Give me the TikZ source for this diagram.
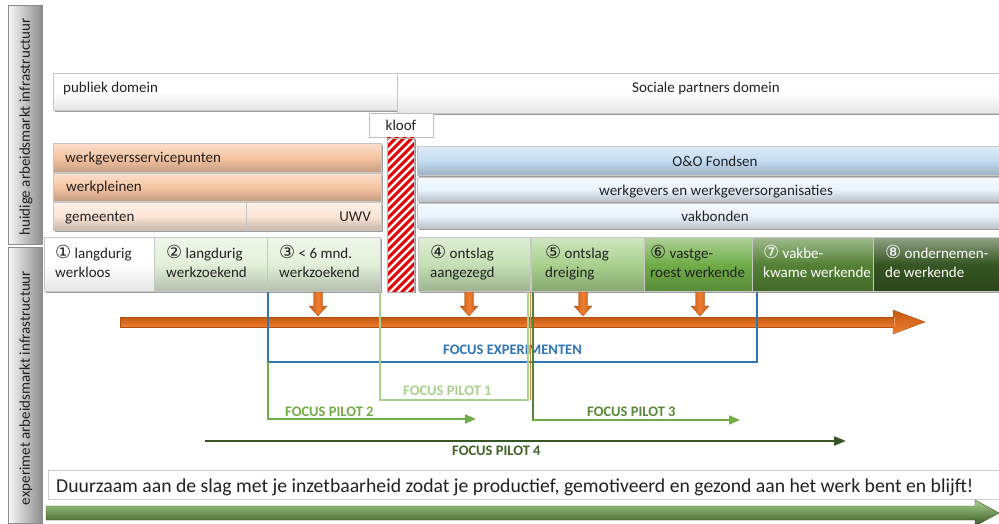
\documentclass[tikz,border=0pt]{standalone}
\usepackage{fontspec}
\setmainfont{Carlito}
\newfontfamily\symfont{DejaVu Sans}
\usetikzlibrary{arrows.meta}
\definecolor{peachA}{HTML}{F6C4A2}
\definecolor{peachB}{HTML}{FBE5D6}
\definecolor{blueA}{HTML}{C3DCF2}
\definecolor{blueB}{HTML}{EAF4FD}
\definecolor{grA}{HTML}{E2F0D9}
\definecolor{grB}{HTML}{C5E0B4}
\definecolor{grC}{HTML}{A9D18E}
\definecolor{grD}{HTML}{70AD47}
\definecolor{grE}{HTML}{548235}
\definecolor{grF}{HTML}{375623}
\definecolor{focblue}{HTML}{2E75B6}
\definecolor{orA}{HTML}{ED7D31}
\definecolor{orB}{HTML}{C55A11}
\definecolor{orC}{HTML}{F8B98A}
\definecolor{txt}{HTML}{222222}
\newcommand{\cnum}[1]{{\symfont\fontsize{18}{19}\selectfont #1}}
\begin{document}
\begin{tikzpicture}[x=1pt,y=-1pt,
  every node/.style={font=\fontsize{15}{19}\selectfont, text=txt},
  bx/.style={anchor=north west, inner sep=0pt, draw=black!22, line width=0.5pt,
    preaction={fill=black!38, transform canvas={xshift=1.4pt,yshift=-1.6pt}}},
  wh/.style 2 args={minimum width=#1pt, minimum height=#2pt},
  sh/.style={top color=#1!55!white, bottom color=#1!80!black, middle color=#1},
  shw/.style={top color=white, bottom color=black!10, middle color=white},
  tx/.style={inner sep=0pt, anchor=base west},
  txc/.style={inner sep=0pt, anchor=base},
  foc/.style={inner sep=0pt, anchor=base west, font=\fontsize{14.5}{18}\selectfont\bfseries},
  tab/.style={anchor=north west, inner sep=0pt, draw=black!45, line width=0.5pt,
    left color=black!3, right color=black!45},
  tip/.style={-{Triangle[length=11pt,width=9pt]}},
  orsh/.style={top color=orB, middle color=orC, bottom color=orA}
]
\useasboundingbox (0,0) rectangle (999,524);
\fill[white] (0,0) rectangle (999,524);

% side tabs
\node[tab, wh={34}{239}] (tabA) at (8,5) {};
\node[rotate=90, inner sep=0pt] (tabAt) at (26,127) {huidige arbeidsmarkt infrastructuur};
\node[tab, wh={34}{276}] (tabB) at (8,247) {};
\node[rotate=90, inner sep=0pt] (tabBt) at (26,388) {experimet arbeidsmarkt infrastructuur};

% domains
\node[bx, shw, wh={344}{37}] (pub) at (53,73) {};
\node[tx] (pubt) at (63,93) {publiek domein};
\node[bx, shw, wh={612}{40}] (soc) at (397,73) {};
\node[txc] (soct) at (706,93) {Sociale partners domein};
\node[anchor=north west, inner sep=0pt, wh={64}{24}, fill=white, draw=black!25] (kloof) at (369,113) {};
\node[txc] (klooft) at (401,131) {kloof};

% gap (hatched)
\node[anchor=north west, inner sep=0pt, wh={27}{154}, fill=white,
  preaction={fill=black!40, transform canvas={xshift=1.5pt,yshift=-1pt}}] (gap) at (387,138) {};
\begin{scope}
  \clip (387,138) rectangle (414,292);
  \foreach \k in {0,8,...,208}{
    \draw[red!90!black, line width=3pt] (380,{138+\k}) -- (421,{97+\k});
  }
\end{scope}
\draw[black!30, line width=0.4pt] (387,138) rectangle (414,292);

% public domain organisations
\node[bx, sh=peachA, wh={328}{29}] (wsp) at (53,143) {};
\node[tx] (wspt) at (65,163) {werkgeversservicepunten};
\node[bx, sh=peachA, wh={328}{28}] (wpl) at (53,173) {};
\node[tx] (wplt) at (66,192) {werkpleinen};
\node[bx, sh=peachB, wh={193}{28}] (gem) at (53,202) {};
\node[tx] (gemt) at (65,222) {gemeenten};
\node[bx, sh=peachB, wh={135}{28}] (uwv) at (246,202) {};
\node[inner sep=0pt, anchor=base east] (uwvt) at (371,222) {UWV};

% social partner organisations
\node[bx, sh=blueA, wh={592}{29}] (oo) at (417,146) {};
\node[txc] (oot) at (715,167) {O\&O Fondsen};
\node[bx, sh=blueB, wh={592}{24}] (wgo) at (417,177) {};
\node[txc] (wgot) at (716,195) {werkgevers en werkgeversorganisaties};
\node[bx, sh=blueB, wh={592}{25}] (vak) at (417,203) {};
\node[txc] (vakt) at (715,222) {vakbonden};

% target groups
\node[bx, shw, wh={110}{54}] (b1) at (44,237) {};
\node[bx, sh=grA, wh={113}{54}] (b2) at (154,237) {};
\node[bx, sh=grA, wh={113}{54}] (b3) at (267,237) {};
\node[bx, sh=grB, wh={112}{54}] (b4) at (418,237) {};
\node[bx, sh=grC, wh={113}{54}] (b5) at (531,237) {};
\node[bx, sh=grD, wh={108}{54}] (b6) at (644,237) {};
\node[bx, sh=grE, wh={121}{54}] (b7) at (752,237) {};
\node[bx, sh=grF, wh={135}{54}] (b8) at (873,237) {};

\node[tx] (t1a) at (55,258) {\cnum{①} langdurig};
\node[tx] (t1b) at (55,277) {werkloos};
\node[tx] (t2a) at (166,258) {\cnum{②} langdurig};
\node[tx] (t2b) at (166,277) {werkzoekend};
\node[tx] (t3a) at (279,258) {\cnum{③} < 6 mnd.};
\node[tx] (t3b) at (279,277) {werkzoekend};
\node[tx] (t4a) at (430,258) {\cnum{④} ontslag};
\node[tx] (t4b) at (430,277) {aangezegd};
\node[tx] (t5a) at (545,258) {\cnum{⑤} ontslag};
\node[tx] (t5b) at (545,277) {dreiging};
\node[tx] (t6a) at (650,258) {\cnum{⑥} vastge-};
\node[tx] (t6b) at (650,277) {roest werkende};
\node[tx, text=white] (t7a) at (763,258) {\cnum{⑦} vakbe-};
\node[tx, text=white] (t7b) at (763,277) {kwame werkende};
\node[tx, text=white] (t8a) at (885,258) {\cnum{⑧} ondernemen-};
\node[tx, text=white] (t8b) at (885,277) {de werkende};

% orange arrow
\shade[orsh, draw=orB!90!black, line width=0.4pt]
  (120,317) -- (894,317) -- (894,327) -- (120,327) -- cycle;
\shade[orsh, draw=orB!90!black, line width=0.4pt]
  (893,310) -- (925,322) -- (893,334) -- cycle;
\fill[orC!60!orA] (893.5,317.6) rectangle (895,326.4);
\foreach \c in {318,469,583,700}{
  \shade[left color=orB, right color=orB, middle color=orA, draw=orB!85!black, line width=0.3pt]
    ({\c-4.5},292) -- ({\c+4.5},292) -- ({\c+4.5},306) -- ({\c+9},306) -- (\c,316)
    -- ({\c-9},306) -- ({\c-4.5},306) -- cycle;
}

% focus lines
\coordinate (eL) at (268,292);
\coordinate (eLb) at (268,362);
\coordinate (eRb) at (757,362);
\coordinate (eR) at (757,292);
\draw[focblue, line width=2.2pt] (eL) -- (eLb) -- (eRb) -- (eR);
\node[foc, text=focblue] (fexp) at (443,354) {FOCUS EXPERIMENTEN};

\coordinate (p1L) at (380,292);
\coordinate (p1Lb) at (380,400);
\coordinate (p1Rb) at (528,400);
\coordinate (p1R) at (528,292);
\draw[grC, line width=2pt] (p1L) -- (p1Lb) -- (p1Rb) -- (p1R);
\draw[orB!75, line width=0.7pt] (530.5,292) -- (530.5,400);
\node[foc, text=grC] (fp1) at (403,395) {FOCUS PILOT 1};

\coordinate (p2b) at (268,419);
\coordinate (p2e) at (476,419);
\draw[grD, line width=2pt, tip] (eLb) -- (p2b) -- (p2e);
\node[foc, text=grD] (fp2) at (285,416) {FOCUS PILOT 2};

\coordinate (p3t) at (533,292);
\coordinate (p3b) at (533,420);
\coordinate (p3e) at (740,420);
\draw[grE, line width=2pt] (p3t) -- (p3b);
\draw[grD, line width=2pt, tip] ([xshift=-1pt]p3b) -- (p3e);
\node[foc, text=grD!80!black] (fp3) at (587,416) {FOCUS PILOT 3};

\coordinate (p4s) at (205,441);
\coordinate (p4e) at (846,441);
\draw[grF, line width=2.2pt, -{Triangle[length=12pt,width=9pt]}] (p4s) -- (p4e);
\node[foc, text=grF!85!grD] (fp4) at (452,455) {FOCUS PILOT 4};

% motto
\node[anchor=north west, inner sep=0pt, wh={955}{29}, fill=white, draw=black!20] (motto) at (48,470) {};
\node[tx, font=\fontsize{19.7}{22}\selectfont] (mottot) at (56,492)
  {Duurzaam aan de slag met je inzetbaarheid zodat je productief, gemotiveerd en gezond aan het werk bent en blijft!};

% bottom arrow
\shade[top color=grC, middle color=grD, bottom color=grF, draw=grF, line width=0.4pt]
  (46,506) -- (975,506) -- (975,500) -- (999,513) -- (975,526) -- (975,520) -- (46,520) -- cycle;
\end{tikzpicture}
\end{document}
